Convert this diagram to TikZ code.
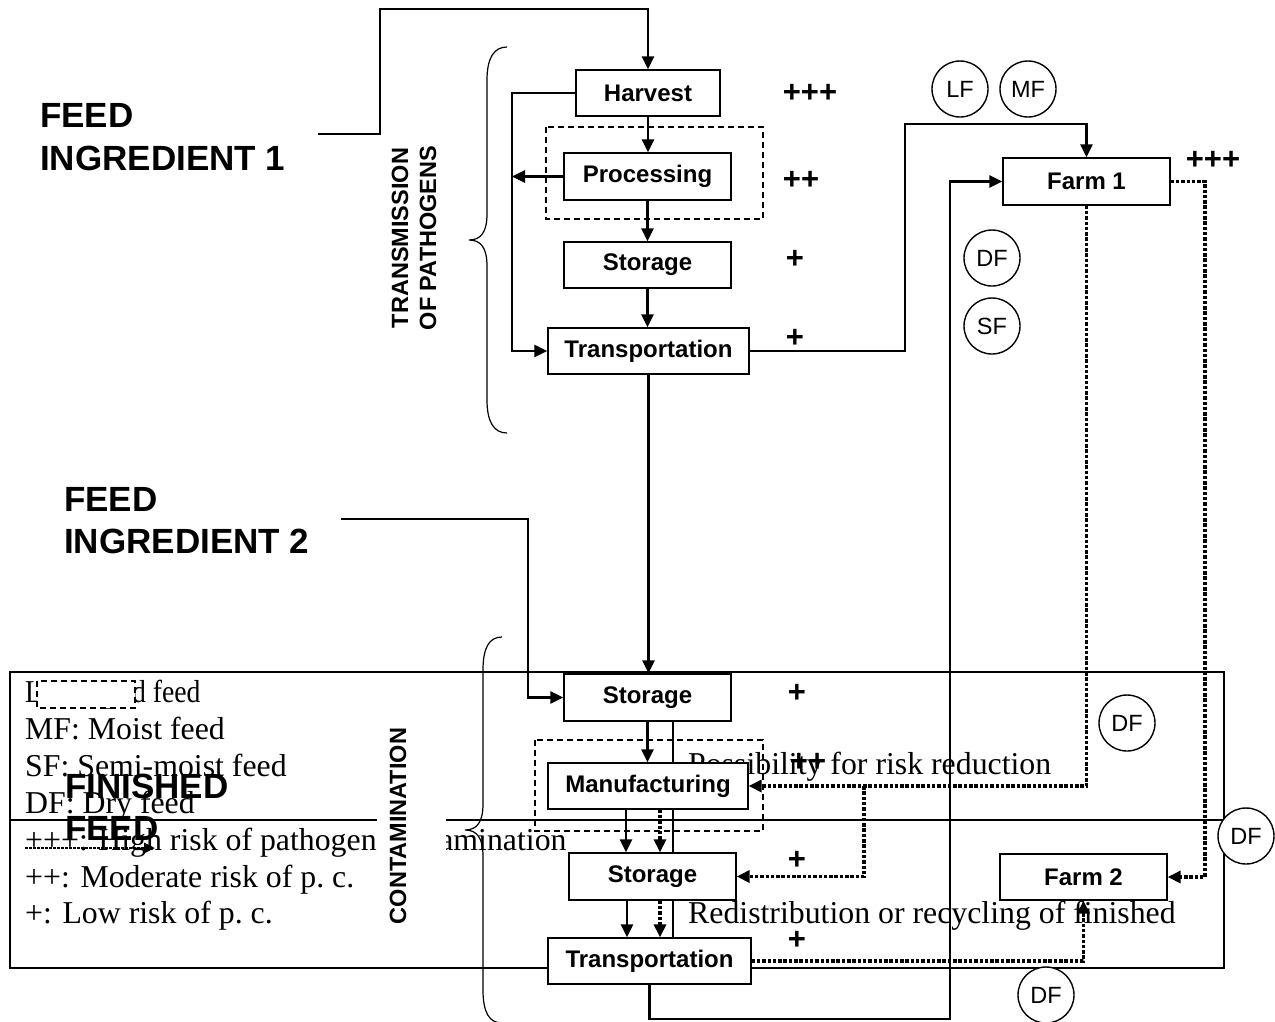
\documentclass[tikz,border=0pt]{standalone}
\usepackage{fontspec}
\setmainfont{Liberation Serif}
\newfontfamily\arialf{Liberation Sans}
\usetikzlibrary{arrows.meta}
\begin{document}
\begin{tikzpicture}[x=1pt,y=-1pt,
  box/.style={draw, line width=1.3pt, fill=white, inner sep=0pt, font=\arialf\bfseries\fontsize{24}{28}\selectfont},
  conn/.style={line width=2.8pt},
  arr/.style={-{Triangle[length=13pt,width=12pt]}},
  dots/.style={line width=3.4pt, dash pattern=on 3.5pt off 1.8pt},
  dbox/.style={draw, line width=1.9pt, dash pattern=on 6pt off 4pt},
  circ/.style={draw, circle, line width=1.4pt, fill=white, minimum size=56pt, inner sep=0pt, font=\arialf\fontsize{23.5}{26}\selectfont},
  risk/.style={font=\arialf\bfseries\fontsize{31}{32}\selectfont, inner sep=0pt},
  big/.style={font=\arialf\bfseries\fontsize{35}{43}\selectfont, anchor=base west, inner sep=0pt},
  leg/.style={font=\fontsize{31.8}{37}\selectfont, anchor=base west, inner sep=0pt},
  side/.style={font=\arialf\bfseries\fontsize{23.5}{28}\selectfont, rotate=90, align=center, inner sep=0pt},
  brace/.style={line width=1.2pt},
]
\useasboundingbox (0,0) rectangle (1275,1021);

% ---------- legend table ----------
\draw[line width=2.2pt] (10,672) rectangle (1224,968);
\draw[line width=2.2pt] (10,820) -- (1224,820);
\draw[line width=1.4pt] (673,672) -- (673,968);

\node[leg] (l1) at (25,702) {\scalebox{0.87}[1]{LF: Liquid feed}};
\node[leg] (l2) at (25,739) {MF: Moist feed};
\node[leg] (l3) at (25,776) {SF: Semi-moist feed};
\node[leg] (l4) at (25,813) {DF: Dry feed};
\node[leg] (l5) at (25,850) {+++: High risk of pathogen contamination};
\node[leg] (l6) at (25,887) {++: Moderate risk of p.\ c.};
\node[leg] (l7) at (25,923) {+: Low risk of p.\ c.};
\node[leg] (r1) at (688,774) {Possibility for risk reduction};
\node[leg] (r2) at (688,923) {Redistribution or recycling of finished};

% white patch behind CONTAMINATION
\fill[white] (377,700) rectangle (446,950);
\node[side] (contam) at (398,826) {CONTAMINATION};

% small dashed white box over the legend
\draw[dbox, fill=white] (37,681) rectangle (135,708);

% finished feed label and dotted legend arrow
\node[big] (ff1) at (65,798) {FINISHED};
\node[big] (ff2) at (65,840) {FEED};
\coordinate (da) at (25,848);
\coordinate (db) at (155,848);
\draw[line width=2.5pt, dash pattern=on 2.5pt off 1.5pt, -{Triangle[length=11pt,width=10pt]}] (da) -- (db);

% ---------- labels ----------
\node[big] (fi1a) at (40,127) {FEED};
\node[big] (fi1b) at (40,170) {INGREDIENT 1};
\node[big] (fi2a) at (64,511) {FEED};
\node[big] (fi2b) at (64,553) {INGREDIENT 2};
\node[side] (trans) at (414,238) {TRANSMISSION\\OF PATHOGENS};

% braces
\draw[brace] (507,47) .. controls (494,47) and (487,58) .. (487,80) -- (487,214)
  .. controls (487,232) and (481,240) .. (469,240)
  .. controls (481,240) and (487,248) .. (487,266) -- (487,400)
  .. controls (487,422) and (494,433) .. (507,433);
\draw[brace] (502,637) .. controls (489,637) and (483,648) .. (483,670) -- (483,804)
  .. controls (483,822) and (477,830) .. (465,830)
  .. controls (477,830) and (483,838) .. (483,856) -- (483,990)
  .. controls (483,1012) and (489,1023) .. (502,1023);

% dashed grouping boxes
\draw[dbox] (546,127) rectangle (763,219);
\draw[dbox] (535,740) rectangle (763,831);

% ---------- nodes ----------
\node[box, minimum width=144pt, minimum height=46pt] (harv) at (648,93) {Harvest};
\node[box, minimum width=167pt, minimum height=47pt] (proc) at (647.5,176.5) {Processing};
\node[box, minimum width=167pt, minimum height=46pt] (stor1) at (647.5,265) {Storage};
\node[box, minimum width=201pt, minimum height=46pt] (tr1) at (648.5,351) {Transportation};
\node[box, minimum width=167pt, minimum height=47pt] (farm1) at (1086.5,181.5) {Farm 1};
\node[box, minimum width=167pt, minimum height=47pt] (stor2) at (647.5,697.5) {Storage};
\node[box, minimum width=200pt, minimum height=46pt] (manu) at (648,786) {Manufacturing};
\node[box, minimum width=167pt, minimum height=47pt] (stor3) at (652.5,876.5) {Storage};
\node[box, minimum width=203pt, minimum height=46pt] (tr3) at (649.5,961) {Transportation};
\node[box, minimum width=167pt, minimum height=46pt] (farm2) at (1083.5,877) {Farm 2};

% ---------- connectors ----------
\coordinate (fi1) at (318,134);
\coordinate (fi2) at (341,519);
\draw[conn,arr] (fi1) -- (380,134) -- (380,9) -| (harv.north);
\draw[conn,arr] (harv.south) -- (harv.south |- proc.north);
\draw[conn,arr] (proc.south) -- (proc.south |- stor1.north);
\draw[conn,arr] (stor1.south) -- (stor1.south |- tr1.north);
\draw[conn,arr] (harv.west) -- (512,93) |- (tr1.west);
\draw[conn,arr] (proc.west) -- (512,176.5);
\draw[conn,arr] (tr1.east) -| (905,124) -| (farm1.north);
\draw[conn,arr] (tr1.south) -- (tr1.south |- stor2.north);
\draw[conn,arr] (fi2) -- (528,519) |- (stor2.west);
\draw[conn,arr] (stor2.south) -- (stor2.south |- manu.north);
\draw[conn,arr] ([xshift=-22pt]manu.south) -- ([xshift=-26.5pt]stor3.north);
\draw[dots,arr] ([xshift=12pt]manu.south) -- ([xshift=7.5pt]stor3.north);
\draw[conn,arr] ([xshift=-25.5pt]stor3.south) -- ([xshift=-22.5pt]tr3.north);
\draw[dots,arr] ([xshift=7.5pt]stor3.south) -- ([xshift=10.5pt]tr3.north);
\draw[conn,arr] (tr3.south) -- (649.5,1019) -| (950,181.5) -- (farm1.west);
\draw[dots,arr] (farm1.east) -- (1205,181.5) |- (farm2.east);
\draw[dots,arr] (farm1.south) |- (manu.east);
\draw[dots,arr] (864,786) |- (stor3.east);
\draw[dots,arr] (tr3.east) -| (farm2.south);

% ---------- feed type circles ----------
\node[circ] (lf) at (960,89) {LF};
\node[circ] (mf) at (1028,89) {MF};
\node[circ] (df1) at (992,258) {DF};
\node[circ] (sf) at (992,326) {SF};
\node[circ] (df2) at (1127,723) {DF};
\node[circ] (df3) at (1246,836) {DF};
\node[circ] (df4) at (1046,995) {DF};

% ---------- risk marks ----------
\node[risk] (k1) at (810,93) {+++};
\node[risk] (k2) at (801,180) {++};
\node[risk] (k3) at (795,259) {+};
\node[risk] (k4) at (795,338) {+};
\node[risk] (k5) at (1213,160) {+++};
\node[risk] (k6) at (797,693) {+};
\node[risk] (k7) at (808,762) {++};
\node[risk] (k8) at (797,860) {+};
\node[risk] (k9) at (797,940) {+};
\end{tikzpicture}
\end{document}
